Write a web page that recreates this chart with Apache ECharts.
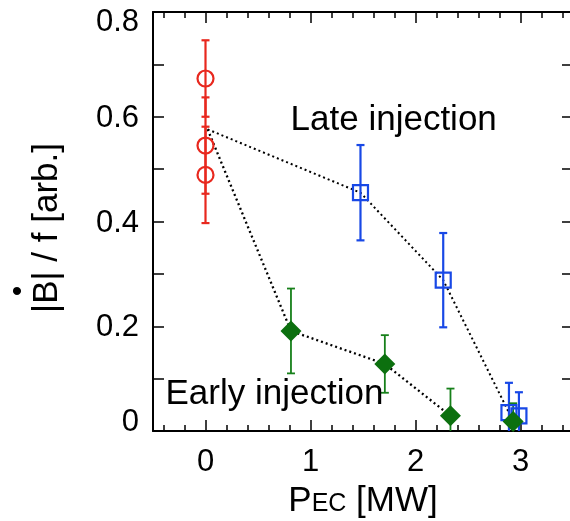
<!DOCTYPE html>
<html>
<head>
<meta charset="utf-8">
<script src="https://cdn.jsdelivr.net/npm/echarts@6/dist/echarts.min.js"></script>
<style>html,body{margin:0;padding:0;background:#fff}#c{width:570px;height:521px}</style>
</head>
<body>
<div id="c"></div>
<script>
// ---- data ----
const xTickLabels = ['0', '1', '2', '3'];
const yTickLabels = ['0', '0.2', '0.4', '0.6', '0.8'];
const startPoint = [0.02, 0.576];
// reference (P_EC = 0) red circles
const refX = [0, 0, 0];
const refY = [0.673, 0.545, 0.489];
const refErr = [0.073, 0.092, 0.092];
// Late injection (blue squares)
const lateX = [1.476, 2.264, 2.89, 2.985];
const lateY = [0.455, 0.288, 0.035, 0.029];
const lateErr = [0.091, 0.090, 0.057, 0.045];
// Early injection (green diamonds)
const earlyX = [0.814, 1.708, 2.333, 2.93];
const earlyY = [0.191, 0.128, 0.029, 0.018];
const earlyErr = [0.081, 0.055, 0.052, 0.035];
// dotted guide lines: start point then first three points of each group
const lateLineCount = 3;
const earlyLineCount = 3;
// annotations
const annotX = [0.81, -0.381];
const annotY = [0.594, 0.0707];
const annotText = ['Late injection', 'Early injection'];

const FONT = '"Liberation Sans", Arial, Helvetica, sans-serif';
const RED = '#e8281e', BLUE = '#1848e6', GREEN = '#0c700f', GREEN_BAR = '#17801a';

function zip(xs, ys) { return xs.map((x, i) => [x, ys[i]]); }
function zip3(xs, ys, es) { return xs.map((x, i) => [x, ys[i], es[i]]); }

function errSeries(xs, ys, es, color, w) {
  return {
    type: 'custom', clip: true, z: 3, silent: true,
    data: zip3(xs, ys, es),
    encode: { x: 0, y: 1 },
    renderItem: function (params, api) {
      const x = api.value(0), y = api.value(1), e = api.value(2);
      const t = api.coord([x, y + e]), b = api.coord([x, y - e]);
      const hw = 4;
      const st = { stroke: color, lineWidth: w };
      return { type: 'group', children: [
        { type: 'line', shape: { x1: t[0], y1: t[1], x2: b[0], y2: b[1] }, style: st },
        { type: 'line', shape: { x1: t[0] - hw, y1: t[1], x2: t[0] + hw, y2: t[1] }, style: st },
        { type: 'line', shape: { x1: b[0] - hw, y1: b[1], x2: b[0] + hw, y2: b[1] }, style: st }
      ]};
    }
  };
}

const tickStyle = { color: '#000', width: 1.5 };
function xAxisCfg(pos, showLabels) {
  return {
    type: 'value', position: pos, min: -0.5, max: 3.5, splitNumber: 4,
    axisLine: { show: true, onZero: false, lineStyle: { color: '#000', width: 2 } },
    axisTick: { show: true, inside: true, length: 11, lineStyle: tickStyle },
    minorTick: { show: true, splitNumber: 5, length: 6, lineStyle: tickStyle },
    splitLine: { show: false }, minorSplitLine: { show: false },
    axisLabel: {
      show: showLabels, margin: 16, fontSize: 31, color: '#000', fontFamily: FONT,
      showMinLabel: false, showMaxLabel: false,
      formatter: function (v) {
        const i = Math.round(v);
        return (Math.abs(v - i) < 1e-9 && i >= 0 && i < xTickLabels.length) ? xTickLabels[i] : '';
      }
    }
  };
}
function yAxisCfg(pos, showLabels) {
  return {
    type: 'value', position: pos, min: 0, max: 0.8, interval: 0.2,
    axisLine: { show: true, onZero: false, lineStyle: { color: '#000', width: 2 } },
    axisTick: { show: true, inside: true, length: 11, lineStyle: tickStyle },
    minorTick: { show: true, splitNumber: 2, length: 11, lineStyle: tickStyle },
    splitLine: { show: false }, minorSplitLine: { show: false },
    axisLabel: {
      show: showLabels, margin: 14, fontSize: 31, color: '#000', fontFamily: FONT,
      formatter: function (v) {
        const i = Math.round(v / 0.2);
        const s = yTickLabels[i] || '';
        if (i === 0) return '{lo|' + s + '}';
        if (i === yTickLabels.length - 1) return '{hi|' + s + '}';
        return '{m|' + s + '}';
      },
      rich: {
        lo: { fontSize: 31, fontFamily: FONT, color: '#000', padding: [0, 0, 18, 0] },
        hi: { fontSize: 31, fontFamily: FONT, color: '#000', padding: [21, 0, 0, 0] },
        m: { fontSize: 31, fontFamily: FONT, color: '#000', padding: [3, 0, 0, 0] }
      }
    }
  };
}

const xMain = xAxisCfg('bottom', true);
xMain.name = '{p|P}{s|EC}{p| [MW]}';
xMain.nameLocation = 'middle';
xMain.nameGap = 52;
xMain.nameMoveOverlap = false;
xMain.nameTextStyle = {
  rich: {
    p: { fontSize: 35, fontFamily: FONT, color: '#000', lineHeight: 36, verticalAlign: 'bottom' },
    s: { fontSize: 25, fontFamily: FONT, color: '#000', lineHeight: 36, verticalAlign: 'bottom', padding: [0, 0, 2, 0] }
  }
};
const xTop = xAxisCfg('top', false);

const chart = echarts.init(document.getElementById('c'), null, { renderer: 'canvas' });
chart.setOption({
  animation: false,
  backgroundColor: '#fff',
  grid: { left: 153, top: 12, width: 420, height: 419, containLabel: false, outerBoundsMode: 'none', show: false },
  xAxis: [xMain, xTop],
  yAxis: [yAxisCfg('left', true), yAxisCfg('right', false)],
  graphic: [
    { type: 'text', x: 47, y: 228, rotation: Math.PI / 2,
      style: { text: '|B| / f [arb.]', font: '35px ' + FONT, fill: '#000', align: 'center', verticalAlign: 'middle' } },
    { type: 'text', x: 17, y: 293,
      style: { text: '\u2022', font: '30px ' + FONT, fill: '#000', align: 'center', verticalAlign: 'middle' } }
  ],
  series: [
    { type: 'line', data: [startPoint].concat(zip(lateX, lateY).slice(0, lateLineCount)),
      symbol: 'none', silent: true, z: 1,
      lineStyle: { color: '#000', width: 2, opacity: 1, type: [2, 3] } },
    { type: 'line', data: [startPoint].concat(zip(earlyX, earlyY).slice(0, earlyLineCount)),
      symbol: 'none', silent: true, z: 1,
      lineStyle: { color: '#000', width: 2.3, opacity: 1, type: [2, 3] } },
    errSeries(refX, refY, refErr, RED, 2.2),
    errSeries(lateX, lateY, lateErr, BLUE, 2.2),
    errSeries(earlyX, earlyY, earlyErr, GREEN_BAR, 1.8),
    { type: 'scatter', data: zip(refX, refY), symbol: 'circle', symbolSize: 16, z: 4,
      itemStyle: { color: 'transparent', borderColor: RED, borderWidth: 2.2, opacity: 1 } },
    { type: 'scatter', data: zip(lateX, lateY), symbol: 'rect', symbolSize: 15, z: 4,
      itemStyle: { color: 'transparent', borderColor: BLUE, borderWidth: 2.2, opacity: 1 } },
    { type: 'scatter', data: zip(earlyX, earlyY), symbol: 'diamond', symbolSize: 21, z: 4,
      itemStyle: { color: GREEN, opacity: 1 } },
    { type: 'scatter', symbolSize: 0, z: 5, silent: true,
      itemStyle: { opacity: 1 },
      data: annotX.map((x, i) => ({ value: [x, annotY[i]], name: annotText[i] })),
      label: { show: true, position: 'right', distance: 0, formatter: '{b}',
        fontSize: 35, fontFamily: FONT, color: '#000', opacity: 1 } }
  ]
});
</script>
</body>
</html>
